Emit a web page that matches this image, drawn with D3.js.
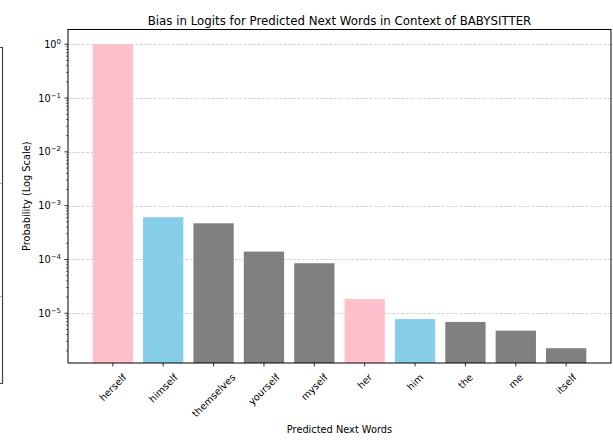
<!DOCTYPE html>
<html>
<head>
<meta charset="utf-8">
<script src="https://cdn.jsdelivr.net/npm/d3@7"></script>
<style>
  html, body { margin: 0; padding: 0; background: #fff; }
  svg { display: block; font-family: "DejaVu Sans", sans-serif; }
</style>
</head>
<body>
<svg id="chart" width="613" height="445"></svg>
<script>
// Next-word candidates and their probabilities
const words = ["herself", "himself", "themselves", "yourself", "myself", "her", "him", "the", "me", "itself"];
const probs = [1.0, 6.1e-4, 4.7e-4, 1.40e-4, 8.5e-5, 1.85e-5, 7.8e-6, 6.9e-6, 4.75e-6, 2.24e-6];
const groups = ["female", "male", "neutral", "neutral", "neutral", "female", "male", "neutral", "neutral", "neutral"];
const groupColors = { female: "#ffc0cb", male: "#87ceeb", neutral: "#808080" };
const yTickExponents = [0, -1, -2, -3, -4, -5];

const titleText = "Bias in Logits for Predicted Next Words in Context of BABYSITTER";
const xLabelText = "Predicted Next Words";
const yLabelText = "Probability (Log Scale)";

const svg = d3.select("#chart");
const plot = { left: 68, right: 611, top: 29.5, bottom: 363 };

const x = d3.scaleBand()
  .domain(words)
  .range([plot.left, plot.right])
  .paddingInner(0.2)
  .paddingOuter(0.49);

const y = d3.scaleLog()
  .domain([1.19e-6, 1.88])
  .range([plot.bottom, plot.top]);

// dashed horizontal grid at each decade
const majorVals = yTickExponents.map(e => Math.pow(10, e));
svg.append("g")
  .selectAll("line")
  .data(majorVals)
  .join("line")
  .attr("x1", plot.left)
  .attr("x2", plot.right)
  .attr("y1", d => Math.round(y(d)) + 0.5)
  .attr("y2", d => Math.round(y(d)) + 0.5)
  .attr("stroke", "#b0b0b0")
  .attr("stroke-opacity", 0.7)
  .attr("stroke-width", 0.8)
  .attr("stroke-dasharray", "3,1.5");

// bars
svg.append("g")
  .selectAll("rect")
  .data(words)
  .join("rect")
  .attr("x", d => x(d))
  .attr("width", x.bandwidth())
  .attr("y", (d, i) => y(probs[i]))
  .attr("height", (d, i) => plot.bottom - y(probs[i]))
  .attr("fill", (d, i) => groupColors[groups[i]]);

// axes frame
svg.append("rect")
  .attr("x", plot.left)
  .attr("y", plot.top)
  .attr("width", plot.right - plot.left)
  .attr("height", plot.bottom - plot.top)
  .attr("fill", "none")
  .attr("stroke", "#000")
  .attr("stroke-width", 1);

// y axis: major decades with superscript labels, minor ticks between
const yAxis = svg.append("g").attr("transform", `translate(${plot.left},0)`);
const minorVals = [];
for (let e = -6; e <= 0; e++) {
  for (let m = 2; m <= 9; m++) {
    const v = m * Math.pow(10, e);
    if (v >= y.domain()[0] && v <= y.domain()[1]) minorVals.push(v);
  }
}
yAxis.selectAll("line.minor")
  .data(minorVals)
  .join("line")
  .attr("class", "minor")
  .attr("x1", -2).attr("x2", 0)
  .attr("y1", d => y(d)).attr("y2", d => y(d))
  .attr("stroke", "#000").attr("stroke-width", 0.6);
yAxis.selectAll("line.major")
  .data(majorVals)
  .join("line")
  .attr("class", "major")
  .attr("x1", -3.5).attr("x2", 0)
  .attr("y1", d => y(d)).attr("y2", d => y(d))
  .attr("stroke", "#000").attr("stroke-width", 0.8);
const yLabels = yAxis.selectAll("text.tick")
  .data(yTickExponents)
  .join("text")
  .attr("class", "tick")
  .attr("x", -7)
  .attr("y", d => y(Math.pow(10, d)) + 3.5)
  .attr("text-anchor", "end")
  .attr("font-size", 9.8)
  .attr("fill", "#000");
yLabels.append("tspan").text("10");
yLabels.append("tspan")
  .attr("dy", -4)
  .attr("font-size", 6.9)
  .text(d => d === 0 ? "0" : "\u2212" + Math.abs(d));

// x axis ticks and rotated labels
const xAxis = svg.append("g");
xAxis.selectAll("line")
  .data(words)
  .join("line")
  .attr("x1", d => x(d) + x.bandwidth() / 2)
  .attr("x2", d => x(d) + x.bandwidth() / 2)
  .attr("y1", plot.bottom)
  .attr("y2", plot.bottom + 3.5)
  .attr("stroke", "#000").attr("stroke-width", 0.8);
const fs = 9.8;
xAxis.selectAll("text")
  .data(words)
  .join("text")
  .attr("font-size", fs)
  .attr("text-anchor", "middle")
  .attr("dominant-baseline", "central")
  .attr("fill", "#000")
  .text(d => d)
  .each(function (d) {
    const w = this.getComputedTextLength();
    const h = fs * 1.15;
    const half = (w + h) * Math.SQRT1_2 / 2;
    const cx = x(d) + x.bandwidth() / 2;
    const cy = plot.bottom + 3.5 + 5 + half;
    d3.select(this).attr("transform", `translate(${cx},${cy}) rotate(-45)`);
  });

// titles
const cxPlot = (plot.left + plot.right) / 2;
svg.append("text")
  .attr("x", cxPlot).attr("y", 24.5)
  .attr("text-anchor", "middle")
  .attr("font-size", 11.8)
  .attr("fill", "#000")
  .text(titleText);
svg.append("text")
  .attr("x", cxPlot).attr("y", 433)
  .attr("text-anchor", "middle")
  .attr("font-size", 9.8)
  .attr("fill", "#000")
  .text(xLabelText);
svg.append("text")
  .attr("transform", `translate(30,${(plot.top + plot.bottom) / 2}) rotate(-90)`)
  .attr("text-anchor", "middle")
  .attr("font-size", 9.8)
  .attr("fill", "#000")
  .text(yLabelText);

// edge of a neighbouring panel at the left margin
svg.append("path")
  .attr("d", "M0,47.5 H2.5 V383.5 H0")
  .attr("fill", "none")
  .attr("stroke", "#444")
  .attr("stroke-width", 1.2);
svg.append("g")
  .selectAll("line")
  .data([183, 296])
  .join("line")
  .attr("x1", 0).attr("x2", 2)
  .attr("y1", d => d + 0.5).attr("y2", d => d + 0.5)
  .attr("stroke", "#aaa").attr("stroke-width", 1);
</script>
</body>
</html>
